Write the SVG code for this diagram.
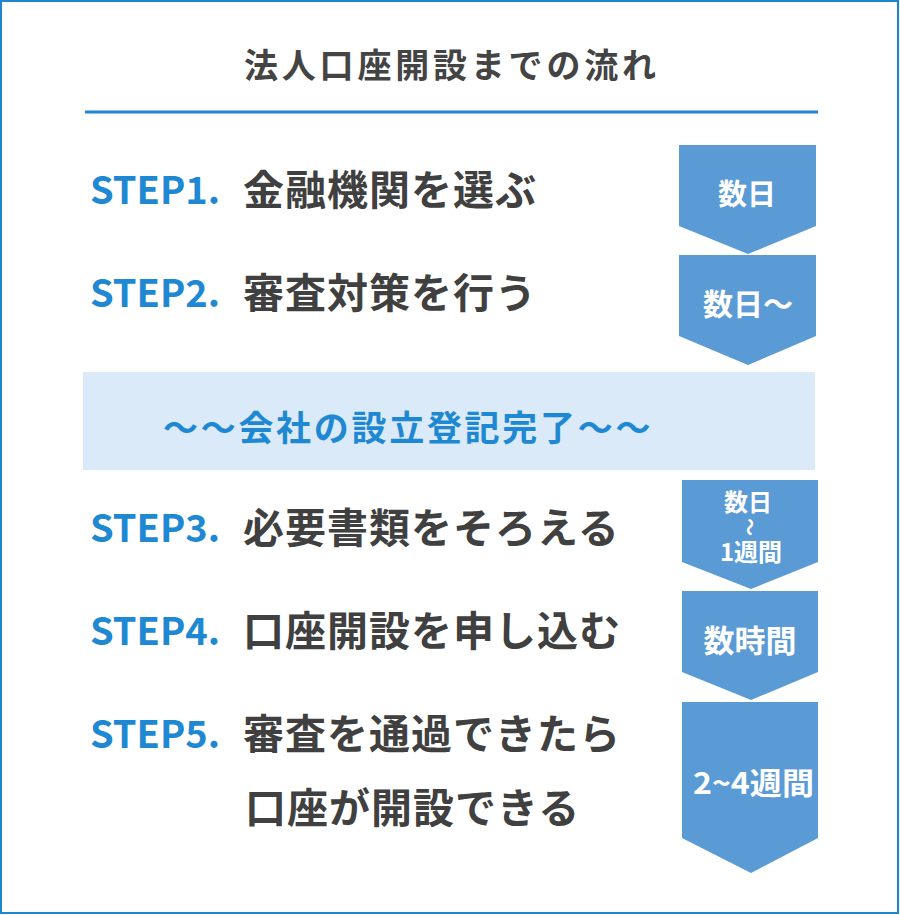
<svg xmlns="http://www.w3.org/2000/svg" width="900" height="915" viewBox="0 0 900 915">
<style>
text{font-family:"Noto Sans CJK JP","Noto Sans",sans-serif;}
.title{font-size:34px;font-weight:700;fill:#444444;letter-spacing:3.8px;}
.step{font-size:38px;font-weight:700;fill:#1e88d2;}
.main{font-size:41px;font-weight:700;fill:#404040;letter-spacing:1px;}
.band{font-size:35px;font-weight:700;fill:#1e88d2;letter-spacing:2.7px;}
.arrow{fill:#5b9bd5;}
.lbl{font-weight:700;fill:#ffffff;text-anchor:middle;}
</style>
<rect x="0" y="0" width="900" height="915" fill="#ffffff"/>
<rect x="1" y="1" width="897" height="912" fill="none" stroke="#1e86d0" stroke-width="2"/>
<g id="title">
<text class="title" x="244" y="78">法人口座開設までの流れ</text>
<line x1="85" y1="112" x2="818" y2="112" stroke="#1e86d0" stroke-width="3"/>
</g>
<g id="step1">
<text class="step" x="90" y="204">STEP1.</text>
<text class="main" x="243" y="205">金融機関を選ぶ</text>
</g>
<g id="step2">
<text class="step" x="90" y="307">STEP2.</text>
<text class="main" x="243" y="308">審査対策を行う</text>
</g>
<g id="band">
<rect x="83" y="372" width="732" height="98" fill="#dbeaf8"/>
<text class="band" x="163" y="441">～～会社の設立登記完了～～</text>
</g>
<g id="step3">
<text class="step" x="90" y="542">STEP3.</text>
<text class="main" x="243" y="543">必要書類をそろえる</text>
</g>
<g id="step4">
<text class="step" x="90" y="645">STEP4.</text>
<text class="main" x="243" y="646">口座開設を申し込む</text>
</g>
<g id="step5">
<text class="step" x="90" y="748">STEP5.</text>
<text class="main" x="243" y="749">審査を通過できたら</text>
<text class="main" x="245" y="823">口座が開設できる</text>
</g>
<g id="dur1">
<path class="arrow" d="M679,145 H816 V226 L748,254 L679,226 Z"/>
<text class="lbl" x="747" y="205" font-size="29">数日</text>
</g>
<g id="dur2">
<path class="arrow" d="M679,255 H816 V336 L748,365 L679,336 Z"/>
<text class="lbl" x="748" y="315" font-size="30">数日～</text>
</g>
<g id="dur3">
<path class="arrow" d="M682,480 H818 V562 L751,589 L682,562 Z"/>
<text class="lbl" x="748" y="511" font-size="24">数日</text>
<text class="lbl" x="0" y="0" font-size="18" transform="translate(751,527) rotate(90)" dominant-baseline="central">～</text>
<text class="lbl" x="751" y="561" font-size="24">1週間</text>
</g>
<g id="dur4">
<path class="arrow" d="M682,591 H818 V672 L751,700 L682,672 Z"/>
<text class="lbl" x="750" y="652" font-size="31">数時間</text>
</g>
<g id="dur5">
<path class="arrow" d="M682,702 H818 V838 L751,873 L682,838 Z"/>
<text class="lbl" x="753.5" y="794" font-size="30" textLength="121" lengthAdjust="spacingAndGlyphs">2~4週間</text>
</g>
</svg>
